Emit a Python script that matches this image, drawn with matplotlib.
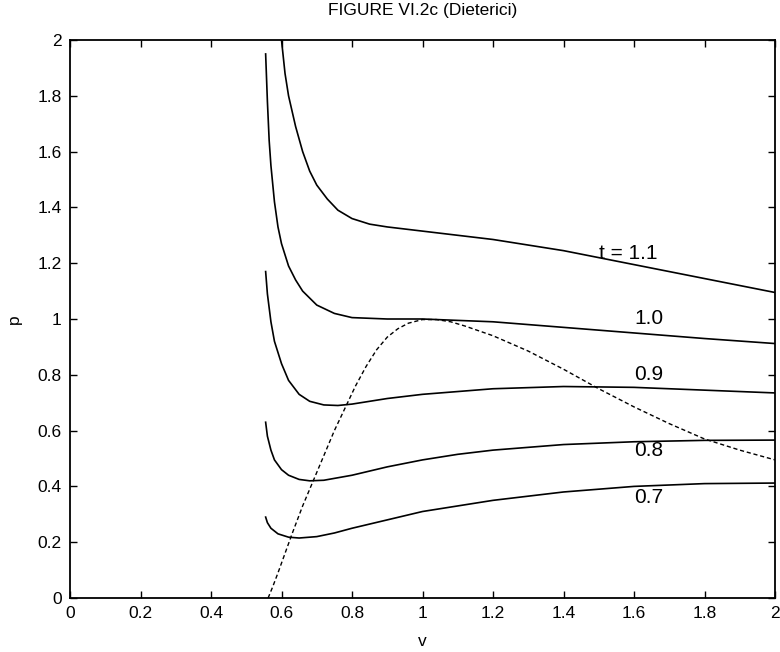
import matplotlib
matplotlib.use("Agg")
import matplotlib.pyplot as plt

plt.rcParams['font.family'] = ['Liberation Sans', 'DejaVu Sans']

v_11 = [0.60, 0.61, 0.62, 0.64, 0.66, 0.68, 0.70, 0.73, 0.76, 0.80, 0.85, 0.90, 1.00,
        1.10, 1.20, 1.30, 1.40, 1.50, 1.60, 1.70, 1.80, 1.90, 2.00]
p_11 = [2.00, 1.88, 1.80, 1.69, 1.60, 1.53, 1.48, 1.43, 1.39, 1.36, 1.34, 1.33, 1.315,
        1.30, 1.285, 1.265, 1.245, 1.22, 1.195, 1.17, 1.145, 1.12, 1.095]

v_10 = [0.555, 0.56, 0.565, 0.57, 0.58, 0.59, 0.60, 0.62, 0.64, 0.66, 0.70, 0.75, 0.80,
        0.90, 1.00, 1.10, 1.20, 1.40, 1.60, 1.80, 2.00]
p_10 = [1.95, 1.78, 1.64, 1.55, 1.42, 1.33, 1.27, 1.19, 1.14, 1.10, 1.05, 1.02, 1.005,
        1.00, 1.00, 0.995, 0.99, 0.97, 0.95, 0.93, 0.912]

v_09 = [0.555, 0.56, 0.57, 0.58, 0.60, 0.62, 0.65, 0.68, 0.72, 0.76, 0.80, 0.90, 1.00,
        1.20, 1.40, 1.60, 1.80, 2.00]
p_09 = [1.17, 1.09, 0.99, 0.92, 0.84, 0.78, 0.73, 0.705, 0.692, 0.69, 0.695, 0.715, 0.73,
        0.75, 0.758, 0.755, 0.745, 0.735]

v_08 = [0.555, 0.56, 0.57, 0.58, 0.60, 0.62, 0.65, 0.68, 0.72, 0.80, 0.90, 1.00, 1.10,
        1.20, 1.40, 1.60, 1.80, 2.00]
p_08 = [0.63, 0.58, 0.53, 0.495, 0.46, 0.44, 0.425, 0.42, 0.422, 0.44, 0.47, 0.495, 0.515,
        0.53, 0.55, 0.56, 0.565, 0.566]

v_07 = [0.555, 0.56, 0.57, 0.59, 0.62, 0.65, 0.70, 0.75, 0.80, 0.90, 1.00, 1.10, 1.20,
        1.40, 1.60, 1.80, 2.00]
p_07 = [0.29, 0.27, 0.25, 0.23, 0.218, 0.215, 0.22, 0.233, 0.25, 0.28, 0.31, 0.33, 0.35,
        0.38, 0.40, 0.41, 0.412]

# spinodal (dashed)
v_sp = [0.562, 0.575, 0.59, 0.61, 0.63, 0.66, 0.69, 0.72, 0.75, 0.78, 0.81, 0.84, 0.87,
        0.90, 0.93, 0.96, 1.00, 1.04, 1.08, 1.12, 1.20, 1.30, 1.40, 1.50, 1.60, 1.70,
        1.80, 1.90, 2.00]
p_sp = [0.0, 0.04, 0.09, 0.16, 0.23, 0.33, 0.42, 0.51, 0.60, 0.68, 0.76, 0.83, 0.89,
        0.935, 0.965, 0.985, 0.998, 0.998, 0.99, 0.975, 0.94, 0.885, 0.82, 0.75, 0.685,
        0.625, 0.57, 0.53, 0.495]

labels = ['t = 1.1', '1.0', '0.9', '0.8', '0.7']
label_v = [1.5, 1.6, 1.6, 1.6, 1.6]
label_p = [1.235, 1.0, 0.8, 0.53, 0.36]

fig = plt.figure(figsize=(7.8, 6.52), dpi=100)
ax = fig.add_axes([70 / 780, 54 / 652, 705 / 780, 558 / 652])

for v, p in [(v_11, p_11), (v_10, p_10), (v_09, p_09), (v_08, p_08), (v_07, p_07)]:
    ax.plot(v, p, color='black', lw=1.2)
ax.plot(v_sp, p_sp, color='black', lw=1.0, ls=(0, (3, 2)))

for s, x, y in zip(labels, label_v, label_p):
    ax.text(x, y, s, fontsize=15, ha='left', va='center')

ticks = [0, 0.2, 0.4, 0.6, 0.8, 1, 1.2, 1.4, 1.6, 1.8, 2]
tick_labels = ['0', '0.2', '0.4', '0.6', '0.8', '1', '1.2', '1.4', '1.6', '1.8', '2']
ax.set_xlim(0, 2)
ax.set_ylim(0, 2)
ax.set_xticks(ticks)
ax.set_xticklabels(tick_labels)
ax.set_yticks(ticks)
ax.set_yticklabels(tick_labels)
ax.tick_params(direction='in', top=True, right=True, length=5, width=1, labelsize=12.5, pad=6)
for sp in ax.spines.values():
    sp.set_linewidth(1.3)

ax.set_xlabel('v', fontsize=12.5, labelpad=9)
ax.set_ylabel('p', fontsize=12.5, labelpad=11)
ax.set_title('FIGURE VI.2c (Dieterici)', fontsize=12.5, pad=18)

fig.savefig('out.png', dpi=100)
